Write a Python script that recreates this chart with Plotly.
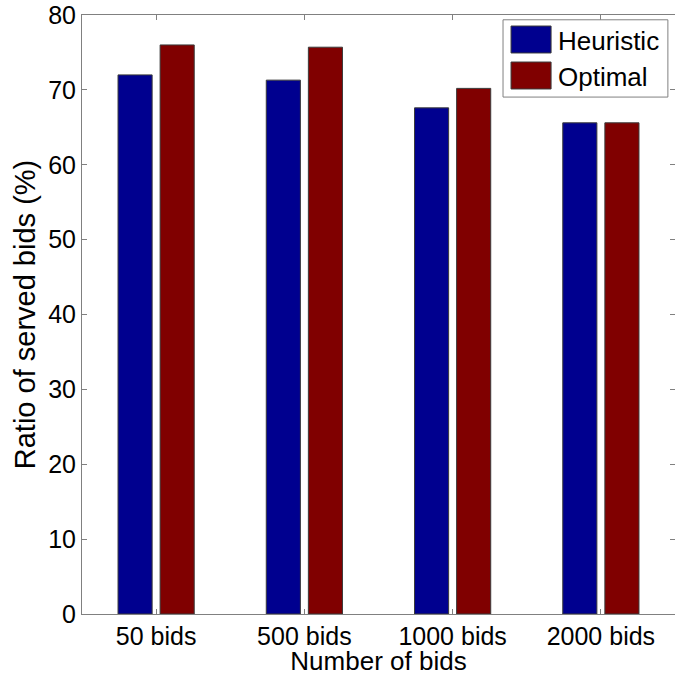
import plotly.graph_objects as go

categories = ["50 bids", "500 bids", "1000 bids", "2000 bids"]
series_names = ["Heuristic", "Optimal"]
heuristic = [72.0, 71.3, 67.6, 65.6]
optimal = [76.0, 75.7, 70.2, 65.6]
y_ticks = [0, 10, 20, 30, 40, 50, 60, 70, 80]

COLORS = ["#00008F", "#800000"]
FONT = "Liberation Sans, Arial, sans-serif"

fig = go.Figure()
for name, vals, col in zip(series_names, [heuristic, optimal], COLORS):
    fig.add_trace(go.Bar(x=categories, y=vals, name=name, showlegend=False,
                         marker=dict(color=col, line=dict(color="#3a3a3a", width=1))))

# MATLAB-style legend (large swatches) drawn in paper coordinates
shapes = [dict(type="rect", xref="paper", yref="paper", x0=0.710, x1=0.988, y0=0.863, y1=0.992,
               line=dict(color="#808080", width=1), fillcolor="white", layer="above")]
annotations = []
sw_rows = [(0.9366, 0.9816), (0.8765, 0.9215)]
for (y0, y1), name, col in zip(sw_rows, series_names, COLORS):
    shapes.append(dict(type="rect", xref="paper", yref="paper", x0=0.7235, x1=0.791, y0=y0, y1=y1,
                       line=dict(color="#3a3a3a", width=1), fillcolor=col, layer="above"))
    annotations.append(dict(xref="paper", yref="paper", x=0.800, y=(y0 + y1) / 2 - 0.002,
                            xanchor="left", yanchor="middle", text=name, showarrow=False,
                            font=dict(family=FONT, size=26, color="black")))

fig.update_layout(
    width=675, height=676,
    margin=dict(l=82, r=0, t=15, b=62),
    paper_bgcolor="white", plot_bgcolor="white",
    barmode="group", bargap=0.432, bargroupgap=0.19,
    font=dict(family=FONT, size=25, color="black"),
    showlegend=False,
    shapes=shapes, annotations=annotations,
)
fig.update_xaxes(
    type="category", range=[-0.5, 3.5],
    showline=True, linecolor="#808080", linewidth=1, mirror="ticks",
    ticks="inside", ticklen=5, tickcolor="#808080",
    showgrid=False, zeroline=False,
    tickfont=dict(family=FONT, size=25),
    title=dict(text="Number of bids", font=dict(family=FONT, size=26), standoff=0),
)
fig.update_yaxes(
    range=[0, 80], tickvals=y_ticks,
    showline=True, linecolor="#808080", linewidth=1, mirror="ticks",
    ticks="inside", ticklen=5, tickcolor="#808080",
    showgrid=False, zeroline=False,
    tickfont=dict(family=FONT, size=25),
    title=dict(text="Ratio of served bids (%)", font=dict(family=FONT, size=29), standoff=4),
)

fig.write_html("out.html", config={"displayModeBar": False},
               post_script="document.body.style.margin='0';document.body.style.overflow='hidden';")
